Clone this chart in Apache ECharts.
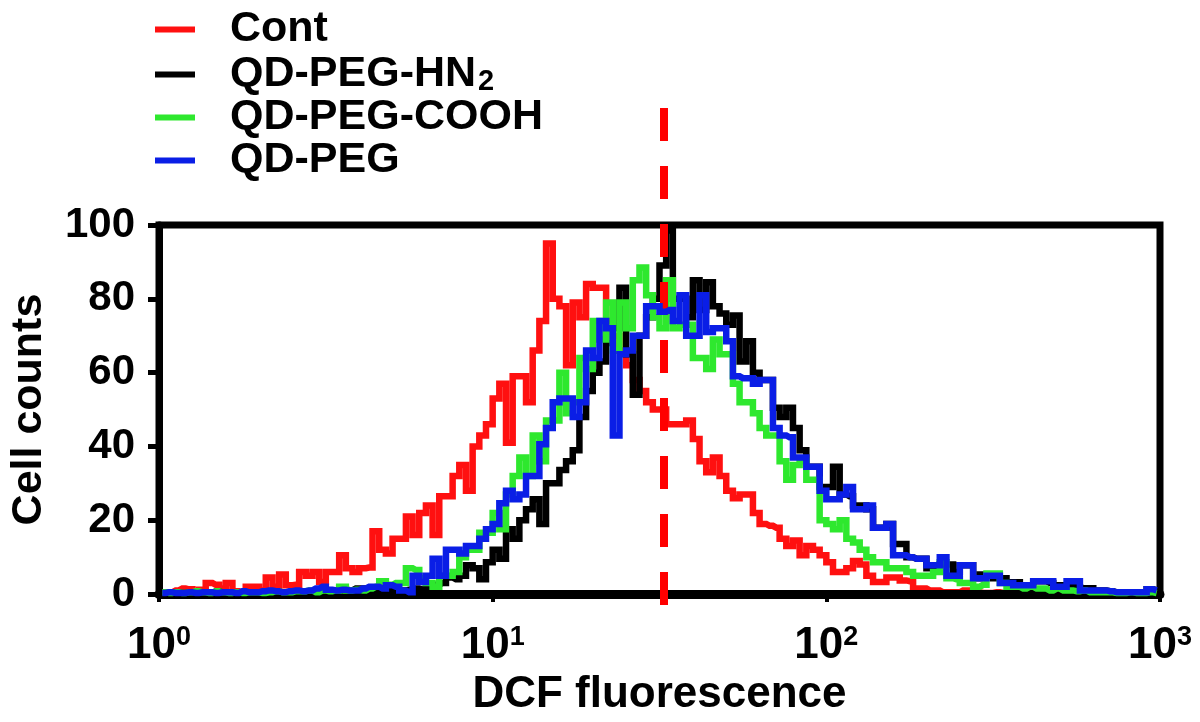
<!DOCTYPE html>
<html><head><meta charset="utf-8">
<script src="https://cdn.jsdelivr.net/npm/echarts@6/dist/echarts.min.js"></script>
<style>html,body{margin:0;padding:0;background:#fff}#c{width:1200px;height:722px}</style>
</head><body><div id="c"></div>
<script>
// histogram channels: log10 position of first bin centre and bin width (decades)
const binFirstExp = 0.01;
const binStepExp = 0.02;
const seriesNames = ['Cont', 'QD-PEG-HN2', 'QD-PEG-COOH', 'QD-PEG'];
const seriesColors = ['#ff1010', '#000000', '#2ee82e', '#0a1ee6'];
const xTickExponents = ['0', '1', '2', '3'];
const yTickValues = [0, 20, 40, 60, 80, 100];
const thresholdValue = 33.2;

const cont = [0.5,0.5,1,1.5,1.3,0.5,1.2,3,2.5,1.5,
3,0.8,0.5,2,2,1,4.5,2,5.3,2.4,
2.5,6,5,6,3.3,6,6,10.5,7,6,
7,7.2,17,12,11,15,15,21,16,22,
24,16,26.5,26.5,32,35,28,40,43,46,
53,57,41,59,59,52,66,74,95,80,
78,62,79,75,84,83,83,74,70,66,
62,58,55,52,50,50,46,46,46,47,
42,36,33,37,32,28,26,27,27,22,
19,18.5,18,15,13,14.5,10.5,13,12,10.5,
8.6,6,6,7,9,8,5,3.3,3.3,4.5,
4.5,3.7,3.5,1.5,1.5,1,1,0.5,0.5,0.5,
1,1,0.5,0.3,0.3,0.5,0.3,0.3,0.2,0.3,
0.2,0.3,0.2,0.2,0.3,0.2,0.2,0.2,0.3,0.2,
0.2,0.2,0.2,0.3,0.2,0.2,0.2,0.2,0.2,0.2];

const pegNH2 = [0.3,0.3,0.5,0.3,0.5,0.3,0.5,0.3,0.8,0.5,
0.3,0.5,0.3,0.5,0.3,0.5,0.8,0.5,0.3,0.5,
0.8,0.5,0.5,0.8,0.5,1,0.8,1.5,1,1.5,
1.5,1.5,1,1.2,1,0.8,1,1.2,1.5,1.2,
2,2.5,3,4.5,4,5,7.8,7,4,8.6,
12,9.6,17.6,15,20,23,25.7,19,30,30,
33.6,36,39,48,55,60,63,68,72,83,
65,54,70,75,80,89,98.5,80,80,75,
85,77,84.5,78,76,73,75.5,63,68.5,60,
58,58,50.5,48,50.5,45,39,34.5,34.5,29,
29,34.5,27,26.5,24,24,23,18,18,19,
13.6,13.6,10,9.6,9.6,7,7,8,8,6,
7.8,7.8,4.3,5.3,5.3,4.3,4.3,3.2,3.2,2.4,
2.4,3.5,3.5,3,2.4,2.4,2,2,1.6,1.6,
1,1,0.8,0.5,0.5,0.5,0.5,0.5,1.3,1];

const pegCOOH = [0.5,0.3,0.5,0.3,0.5,0.8,0.5,0.3,0.8,0.5,
0.3,0.5,0.3,0.5,0.5,0.3,0.5,0.8,0.5,0.5,
0.8,0.8,1,0.5,1,0.8,1,2,1,1.2,
1,1.5,2,3.5,2.5,3,3,7,6.5,4.3,
3,2,5,5,6,10,12,12,16.6,16.6,
22,17.6,27,32,37,32,43,36,47,47,
60,49,52,64,61,74,69,79,66,79,
72,85,88.5,81,75,72,85,72,73,73,
64,64,61,69,65,65,57,52,52,49,
45,43,43,36,31,35,36,31,31,20,
19,17.6,20,15,14,12,10,8.6,8.6,7,
7,7,6,5,5,5,6,8.6,4.3,4,
3,3,2,2.5,5.6,5.6,3,2,2,1.5,
2,1.5,1.5,1,1.5,1,1,0.8,1,0.5,
0.5,0.5,0.5,0.3,0.3,0.5,0.3,0.3,0.5,0.3];

const peg = [0.3,0.5,0.3,0.3,0.5,0.3,0.5,0.5,0.3,0.5,
0.5,0.3,0.8,0.5,0.5,0.8,1,0.8,0.5,0.8,
1,0.8,1,1.5,2,1.2,1,1.2,1,1,
1.5,2,2,1.5,2.4,2,1,0.5,5,3.3,
5,9.6,5,12,12,11,13,13,15,17.6,
19,24.6,28,25.7,27,32,32,40.6,45,52,
53,53,48,52,66,64,74,72,43,65,
66,70,70,78,78,76.5,77,74,81,70,
70,81,71,72,72,68.5,59,58.5,58.5,57,
58,58,45,43,42.5,37,37,34.5,34.5,28,
25.7,25.7,27,29,23,23,24,18,18,19,
10.5,10.5,10,9.6,9.6,7.8,7.8,10,5,5,
7.8,7.8,4.3,4.3,5,5,3,3,2.4,2.4,
2.4,3.5,3.5,3.5,2,2,3.5,3.5,1,1,
1,1,0.8,0.5,0.5,0.5,0.5,0.5,1.3,1];

const seriesValues = [cont, pegNH2, pegCOOH, peg];
const FONT = 'Liberation Sans, Arial, Helvetica, sans-serif';

function toPoints(arr) {
  return arr.map((v, i) => [Math.pow(10, binFirstExp + binStepExp * i), v]);
}

const chart = echarts.init(document.getElementById('c'), null, {renderer: 'canvas'});

const histSeries = seriesNames.map((name, k) => ({
  name: name,
  type: 'line',
  xAxisIndex: 0, yAxisIndex: 0,
  step: 'middle',
  symbol: 'none',
  showSymbol: false,
  data: toPoints(seriesValues[k]),
  lineStyle: {color: seriesColors[k], width: 6.5, join: 'miter'},
  itemStyle: {color: seriesColors[k]},
  z: 2 + k
}));

const option = {
  animation: false,
  backgroundColor: '#ffffff',
  grid: [
    {left: 153, right: 40, top: 225, bottom: 122, show: true, borderColor: '#000', borderWidth: 7, backgroundColor: 'transparent'},
    {left: 153, right: 40, top: 108, bottom: 117, show: false}
  ],
  legend: {
    data: seriesNames,
    orient: 'vertical',
    left: 150, top: 3,
    itemWidth: 40, itemHeight: 6,
    itemGap: 0,
    icon: 'rect',
    selectedMode: false,
    formatter: function (name) {
      return name === 'QD-PEG-HN2' ? 'QD-PEG-HN{s|2}' : name;
    },
    textStyle: {
      fontFamily: FONT, fontSize: 43, fontWeight: 'bold', color: '#000',
      lineHeight: 43, padding: [0, 0, 0, 30],
      rich: {
        s: {fontFamily: FONT, fontSize: 29, fontWeight: 'bold', color: '#000', lineHeight: 43, verticalAlign: 'bottom', padding: [16, 0, 0, 2]}
      }
    }
  },
  xAxis: [
    {
      type: 'log', logBase: 10, min: 1, max: 1000, gridIndex: 0,
      z: 3,
      axisLine: {show: true, onZero: false, lineStyle: {color: '#000', width: 9}},
      axisTick: {show: true, inside: false, length: 8, lineStyle: {color: '#000', width: 4}},
      minorTick: {show: false},
      splitLine: {show: false},
      axisLabel: {
        margin: 30,
        showMinLabel: true, showMaxLabel: true,
        formatter: function (v) {
          const idx = Math.round(Math.log10(v));
          return '{b|10}{s|' + xTickExponents[idx] + '}';
        },
        rich: {
          b: {fontFamily: FONT, fontSize: 44, fontWeight: 'bold', color: '#000'},
          s: {fontFamily: FONT, fontSize: 27, fontWeight: 'bold', color: '#000', verticalAlign: 'top', padding: [0, 0, 16, 0]}
        }
      },
      name: 'DCF fluorescence',
      nameLocation: 'middle',
      nameGap: 72,
      nameTextStyle: {fontFamily: FONT, fontSize: 44, fontWeight: 'bold', color: '#000'}
    },
    {
      type: 'log', logBase: 10, min: 1, max: 1000, gridIndex: 1, show: false
    }
  ],
  yAxis: [
    {
      type: 'value', min: 0, max: 100, interval: 20, gridIndex: 0,
      axisLine: {show: true, lineStyle: {color: '#000', width: 7}},
      axisTick: {show: true, inside: false, length: 11, lineStyle: {color: '#000', width: 5}},
      splitLine: {show: false},
      axisLabel: {
        margin: 24,
        fontFamily: FONT, fontSize: 42, fontWeight: 'bold', color: '#000',
        formatter: function (v) { return yTickValues.indexOf(v) >= 0 ? String(v) : ''; }
      },
      name: 'Cell counts',
      nameLocation: 'middle',
      nameGap: 108,
      nameTextStyle: {fontFamily: FONT, fontSize: 43, fontWeight: 'bold', color: '#000'}
    },
    {type: 'value', min: 0, max: 1, gridIndex: 1, show: false}
  ],
  series: histSeries.concat([{
    name: 'threshold',
    type: 'line',
    xAxisIndex: 1, yAxisIndex: 1,
    data: [],
    symbol: 'none',
    z: 10,
    clip: false,
    markLine: {
      silent: true,
      symbol: ['none', 'none'],
      label: {show: false},
      lineStyle: {color: '#ff0000', width: 8, type: [33, 25], cap: 'butt'},
      data: [{xAxis: thresholdValue}]
    }
  }])
};
chart.setOption(option);
</script>
</body></html>
